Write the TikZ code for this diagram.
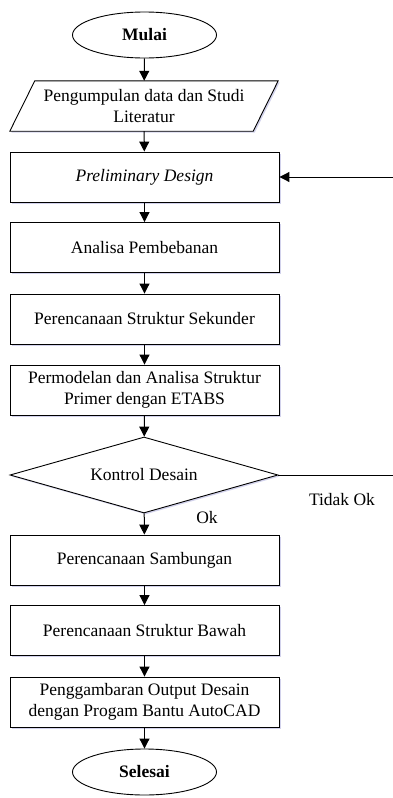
\documentclass[tikz,border=0pt]{standalone}
\usepackage{fontspec}
\setmainfont{Liberation Serif}
\usetikzlibrary{shapes.geometric,arrows.meta,shadows,backgrounds}
\begin{document}
\begin{tikzpicture}[x=1pt,y=-1pt,
  every node/.style={font=\fontsize{17.5}{21}\selectfont},
  sh/.style={drop shadow={shadow xshift=1.5pt,shadow yshift=-1.5pt,opacity=0.25,fill=blue!40!gray}},
  proc/.style={draw,line width=0.9pt,fill=white,sh,minimum width=269pt,minimum height=50pt,align=center,inner sep=2pt},
  term/.style={draw,line width=0.9pt,fill=white,ellipse,minimum width=144pt,minimum height=46pt,inner sep=0pt,font=\fontsize{17.5}{21}\selectfont\bfseries},
  dec/.style={draw,line width=0.9pt,fill=white,diamond,sh,aspect=3.53,minimum width=268pt,minimum height=76pt,inner sep=0pt},
  arr/.style={line width=1pt,-{Triangle[length=10pt,width=10pt]}},
  lbl/.style={inner sep=0pt}]
\useasboundingbox (0,0) rectangle (392,798);
\node[term] (mulai) at (144.5,35) {Mulai};
\node[align=center,minimum width=268pt,minimum height=50pt,inner sep=0pt] (data) at (144,106) {Pengumpulan data dan Studi\\Literatur};
\begin{scope}[on background layer]
\fill[blue!40!gray,opacity=0.25] ([xshift=26.5pt,yshift=-1.5pt]data.north west) -- ([xshift=1.5pt,yshift=-1.5pt]data.north east) -- ([xshift=-23.5pt,yshift=-1.5pt]data.south east) -- ([xshift=1.5pt,yshift=-1.5pt]data.south west) -- cycle;
\draw[line width=0.9pt,fill=white] ([xshift=25pt]data.north west) -- (data.north east) -- ([xshift=-25pt]data.south east) -- (data.south west) -- cycle;
\end{scope}
\node[proc] (pre) at (144.5,177) {\itshape Preliminary Design};
\node[proc] (ana) at (144.5,247.5) {Analisa Pembebanan};
\node[proc] (sek) at (144.5,319) {Perencanaan Struktur Sekunder};
\node[proc] (mod) at (144.5,390) {Permodelan dan Analisa Struktur\\Primer dengan ETABS};
\node[dec] (kon) at (144,475) {Kontrol Desain};
\node[proc] (sam) at (144.5,560) {Perencanaan Sambungan};
\node[proc] (baw) at (144.5,630.5) {Perencanaan Struktur Bawah};
\node[proc] (gam) at (144.5,702) {Penggambaran Output Desain\\dengan Progam Bantu AutoCAD};
\node[term] (sel) at (144.5,772) {Selesai};
\node[lbl] (tok) at (342,500) {Tidak Ok};
\node[lbl] (ok) at (207,518) {Ok};
\coordinate (loopb) at (400,475);
\coordinate (loopt) at (400,177);
\draw[arr] (mulai) -- (data);
\draw[arr] (data) -- (pre);
\draw[arr] (pre) -- (ana);
\draw[arr] (ana) -- (sek);
\draw[arr] (sek) -- (mod);
\draw[arr] (mod) -- (kon);
\draw[arr] (kon) -- (sam);
\draw[arr] (sam) -- (baw);
\draw[arr] (baw) -- (gam);
\draw[arr] (gam) -- (sel);
\draw[arr] (kon.east) -- (loopb) -- (loopt) -- (pre.east);
\end{tikzpicture}
\end{document}
